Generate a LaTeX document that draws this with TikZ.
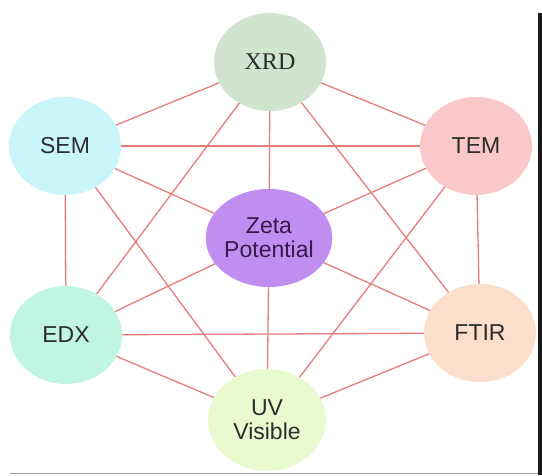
\documentclass[tikz,border=0pt]{standalone}
\usetikzlibrary{shapes.geometric}
\usepackage{fontspec}
\setmainfont{Liberation Sans}
\newfontfamily\serifface{Liberation Serif}
\definecolor{edgered}{RGB}{230,125,125}
\definecolor{xrdfill}{RGB}{208,228,208}
\definecolor{semfill}{RGB}{200,246,250}
\definecolor{temfill}{RGB}{250,200,200}
\definecolor{zetafill}{RGB}{192,142,240}
\definecolor{edxfill}{RGB}{192,245,225}
\definecolor{ftirfill}{RGB}{252,223,202}
\definecolor{uvfill}{RGB}{233,250,208}
\definecolor{labeltext}{RGB}{45,45,45}
\definecolor{zetatext}{RGB}{55,25,75}
\begin{document}
\begin{tikzpicture}[x=1pt,y=-1pt,
  blob/.style={ellipse, minimum width=112pt, minimum height=98pt, inner sep=0pt,
    align=center, text=labeltext, font=\fontsize{23}{25}\selectfont},
  link/.style={draw=edgered, line width=1.3pt}]
  \fill[white] (0,0) rectangle (542,475);
  \useasboundingbox (0,0) rectangle (542,475);
  % frame pieces along the right and bottom edges
  \fill[black!90] (538,13) rectangle (542,475);
  \draw[gray!75, line width=1.5pt] (10,473.5) -- (538,473.5);
  % connector end points at the centres
  \coordinate (cx) at (270,62);
  \coordinate (cs) at (65,146);
  \coordinate (ct) at (476,146);
  \coordinate (cz) at (269,238);
  \coordinate (ce) at (66,335);
  \coordinate (cf) at (480,333);
  \coordinate (cu) at (267,420);
  % links between the techniques (the three diagonals run through the centre node)
  \foreach \a/\b in {cx/cs,cx/ct,cx/cz,cx/ce,cx/cf,
                     cs/ct,cs/cz,cs/ce,cs/cu,
                     ct/cz,ct/cf,ct/cu,
                     cz/ce,cz/cf,cz/cu,
                     ce/cf,ce/cu,cf/cu}
    \draw[link] (\a) -- (\b);
  % technique nodes
  \node[blob, fill=xrdfill, font=\serifface\fontsize{24}{26}\selectfont] (xrd) at (cx) {XRD};
  \node[blob, fill=semfill] (sem) at (cs) {SEM};
  \node[blob, fill=temfill] (tem) at (ct) {TEM};
  \node[blob, fill=zetafill, text=zetatext] (zeta) at (cz) {Zeta\\[-1pt]Potential};
  \node[blob, fill=edxfill] (edx) at (ce) {EDX};
  \node[blob, fill=ftirfill] (ftir) at (cf) {FTIR};
  \node[blob, fill=uvfill, minimum width=118pt, minimum height=102pt] (uv) at (cu) {UV\\[-1pt]Visible};
\end{tikzpicture}
\end{document}
